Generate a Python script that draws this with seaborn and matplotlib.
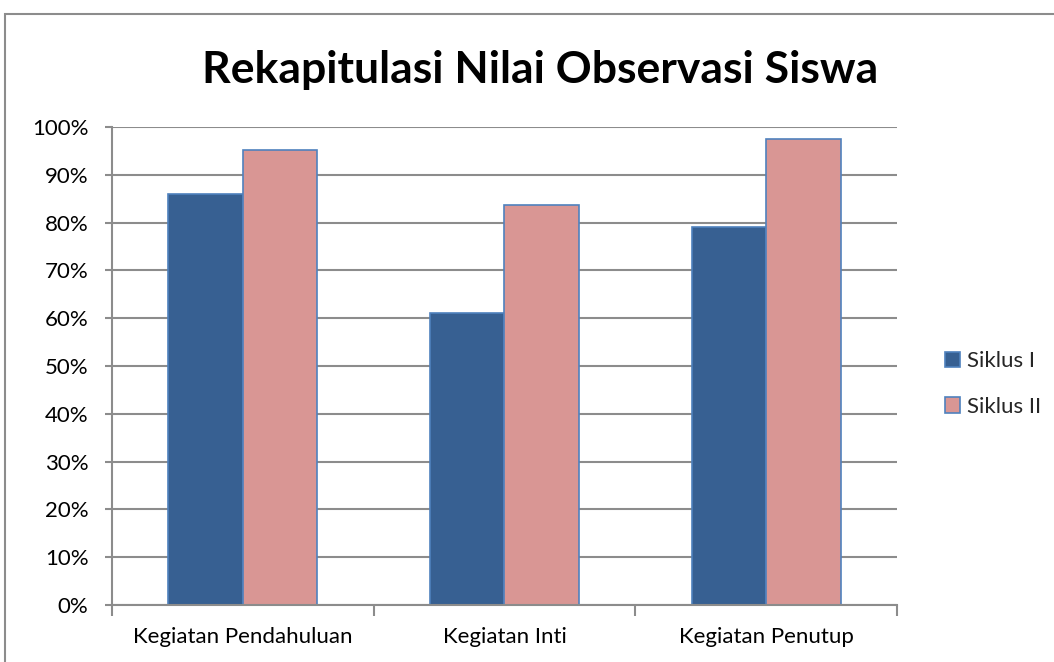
import pandas as pd
import matplotlib
matplotlib.use("Agg")
import matplotlib.pyplot as plt
import seaborn as sns
from matplotlib.patches import Rectangle, Patch
from matplotlib.ticker import PercentFormatter, FixedLocator

kegiatan = ["Kegiatan Pendahuluan", "Kegiatan Inti", "Kegiatan Penutup"]
siklus_1 = [86, 61, 79]
siklus_2 = [95.2, 83.6, 97.5]
series = ["Siklus I", "Siklus II"]

df = pd.DataFrame({
    "kegiatan": kegiatan * 2,
    "nilai": siklus_1 + siklus_2,
    "siklus": [series[0]] * 3 + [series[1]] * 3,
})

sns.set_theme(style="white")
plt.rcParams["font.family"] = ["Lato", "DejaVu Sans"]

fig = plt.figure(figsize=(10.54, 6.62), dpi=100)
ax = fig.add_axes([0.1063, 0.0861, 0.7447, 0.7221])

colors = {"Siklus I": "#376092", "Siklus II": "#D99694"}
sns.barplot(data=df, x="kegiatan", y="nilai", hue="siklus", palette=colors,
            saturation=1, width=0.57, edgecolor="#4F81BD", linewidth=1.2,
            ax=ax, legend=False)

ax.set_ylim(0, 100)
ax.set_xlim(-0.5, 2.5)
ax.set_yticks(range(0, 101, 10))
ax.yaxis.set_major_formatter(PercentFormatter(decimals=0))
ax.yaxis.grid(True, color="#8C8C8C", linewidth=1.5)
ax.set_axisbelow(True)
ax.set_xlabel("")
ax.set_ylabel("")

for s in ["top", "right"]:
    ax.spines[s].set_visible(False)
for s in ["left", "bottom"]:
    ax.spines[s].set_color("#8C8C8C")
    ax.spines[s].set_linewidth(1.5)

ax.tick_params(axis="y", which="major", left=True, length=5, width=1.5,
               color="#8C8C8C", labelsize=16, pad=12, labelcolor="black")
ax.tick_params(axis="x", which="major", length=0, labelsize=16, pad=16,
               labelcolor="black")
ax.xaxis.set_minor_locator(FixedLocator([-0.5, 0.5, 1.5, 2.5]))
ax.tick_params(axis="x", which="minor", bottom=True, length=8, width=1.5,
               color="#8C8C8C")

handles = [Patch(facecolor=colors[s], edgecolor="#4F81BD", linewidth=1.2)
           for s in series]
fig.legend(handles, series, loc="center left", bbox_to_anchor=(0.888, 0.42),
           frameon=False, fontsize=16, handlelength=0.7, handleheight=0.7,
           handletextpad=0.3, labelspacing=1.15, borderaxespad=0)

fig.text(0.512, 0.894, "Rekapitulasi Nilai Observasi Siswa", ha="center",
         va="center", fontsize=32, fontweight="bold", color="black")

fig.patches.append(Rectangle((0.0047, -0.05), 1.1, 0.979 + 0.05,
                             transform=fig.transFigure, fill=False,
                             edgecolor="#8C8C8C", linewidth=1.5))

fig.savefig("out.png", dpi=100)
